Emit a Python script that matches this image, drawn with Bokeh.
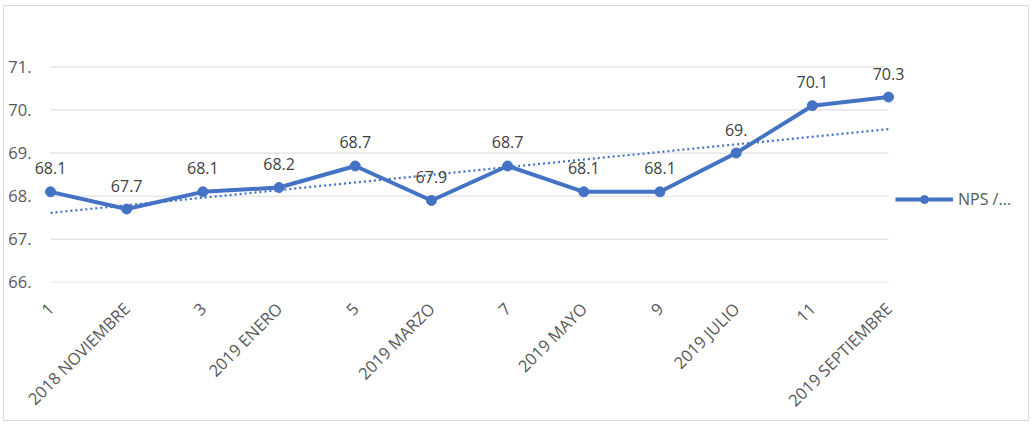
import math
import numpy as np
from bokeh.plotting import figure
from bokeh.models import Range1d, FixedTicker, Label, ColumnDataSource, Legend, LegendItem
from bokeh.embed import file_html
from bokeh.resources import INLINE

# ---- data ----
x_pos = [1, 2, 3, 4, 5, 6, 7, 8, 9, 10, 11, 12]
categories = ["1", "2018 NOVIEMBRE", "3", "2019 ENERO", "5", "2019 MARZO",
              "7", "2019 MAYO", "9", "2019 JULIO", "11", "2019 SEPTIEMBRE"]
nps = [68.1, 67.7, 68.1, 68.2, 68.7, 67.9, 68.7, 68.1, 68.1, 69.0, 70.1, 70.3]
nps_labels = ["68.1", "67.7", "68.1", "68.2", "68.7", "67.9", "68.7", "68.1",
              "68.1", "69.", "70.1", "70.3"]
y_ticks = [66, 67, 68, 69, 70, 71]
y_tick_labels = ["66.", "67.", "68.", "69.", "70.", "71."]
series_name = "NPS /..."

BLUE = "#4472C4"
FONT = "Open Sans"

# linear trendline (least squares, like Excel's)
slope, intercept = np.polyfit(x_pos, nps, 1)
trend_x = [x_pos[0], x_pos[-1]]
trend_y = [intercept + slope * v for v in trend_x]

p = figure(width=1026, height=416, output_backend="svg", toolbar_location=None,
           x_range=Range1d(0.7768, 13.798), y_range=Range1d(65.995, 72.31),
           min_border_left=29, min_border_right=5, min_border_top=4,
           min_border_bottom=139)
p.styles = {"border": "1px solid #d9d9d9", "margin-left": "3px", "margin-top": "5px"}
p.outline_line_color = None
p.background_fill_color = "white"
p.border_fill_color = "white"
p.xgrid.grid_line_color = None
p.ygrid.grid_line_color = None

# horizontal gridlines spanning the category extent (like Excel's plot area)
p.segment(x0=[x_pos[0]] * len(y_ticks), x1=[x_pos[-1]] * len(y_ticks),
          y0=y_ticks, y1=y_ticks, line_color="#d9d9d9", line_width=1)

p.yaxis.ticker = FixedTicker(ticks=y_ticks)
p.yaxis.major_label_overrides = {t: l for t, l in zip(y_ticks, y_tick_labels)}
p.xaxis.ticker = FixedTicker(ticks=x_pos)
p.xaxis.major_label_overrides = {t: l for t, l in zip(x_pos, categories)}
p.xaxis.major_label_orientation = math.pi / 4
for ax in (p.xaxis, p.yaxis):
    ax.axis_line_color = None
    ax.major_tick_line_color = None
    ax.minor_tick_line_color = None
    ax.major_tick_out = 0
    ax.major_tick_in = 0
    ax.minor_tick_out = 0
    ax.minor_tick_in = 0
    ax.major_label_text_font = FONT
    ax.major_label_text_font_size = "16.5px"
    ax.major_label_text_color = "#595959"
p.yaxis.major_label_standoff = 2
p.xaxis.major_label_standoff = 23

src = ColumnDataSource(dict(x=x_pos, y=nps))

p.line(trend_x, trend_y, line_color=BLUE, line_width=2.25, line_dash="2 3")
line_r = p.line("x", "y", source=src, line_color=BLUE, line_width=4)
mark_r = p.scatter("x", "y", source=src, size=10, fill_color=BLUE, line_color=BLUE)

for xv, yv, lbl in zip(x_pos, nps, nps_labels):
    p.add_layout(Label(x=xv, y=yv, text=lbl, text_align="center",
                       text_baseline="alphabetic", y_offset=23.5, text_font=FONT,
                       text_font_size="16px", text_color="#404040"))

legend = Legend(items=[LegendItem(label=series_name, renderers=[line_r, mark_r])],
                location=(862, 72), padding=0, margin=0, glyph_width=58,
                glyph_height=20, label_standoff=5, border_line_color=None,
                background_fill_alpha=0, label_text_font=FONT,
                label_text_font_size="16px", label_text_color="#595959")
p.add_layout(legend)

open("out.html", "w").write(file_html(p, INLINE))
